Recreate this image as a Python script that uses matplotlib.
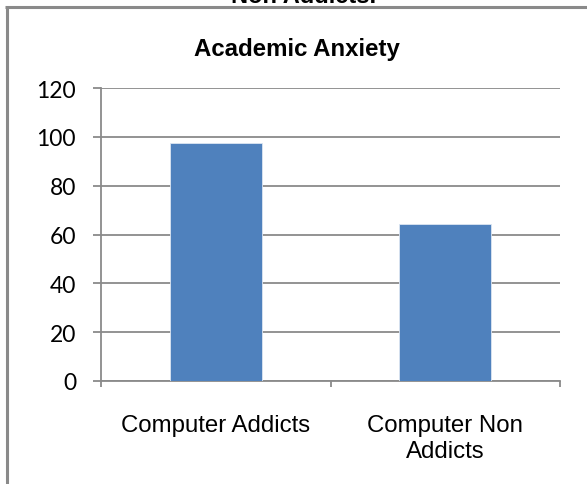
import matplotlib
matplotlib.use("Agg")
import matplotlib.pyplot as plt
from matplotlib.lines import Line2D

# data
categories = ["Computer Addicts", "Computer Non\nAddicts"]
values = [97.5, 64.3]
y_ticks = [0, 20, 40, 60, 80, 100, 120]

DPI = 100
W, H = 587, 485
GRAY = "#8a8a8a"
BAR = "#4f81bd"

fig = plt.figure(figsize=(W / DPI, H / DPI), dpi=DPI)
fig.patch.set_facecolor("white")

# chart area border (only left and top visible)
fig.add_artist(Line2D([6.5 / W, 6.5 / W], [0, 1 - 7.8 / H], color=GRAY, lw=2.2,
                      transform=fig.transFigure, solid_capstyle="butt"))
fig.add_artist(Line2D([5.4 / W, 1], [1 - 7.8 / H, 1 - 7.8 / H], color=GRAY, lw=2.2,
                      transform=fig.transFigure, solid_capstyle="butt"))

# cut-off caption text from the page above
fig.text(304 / W, 1 - 3 / H, "Non Addicts.", ha="center", va="baseline",
         fontsize=17, fontweight="bold", family="Liberation Sans")

fig.text(297 / W, 1 - 56 / H, "Academic Anxiety", ha="center", va="baseline",
         fontsize=17.3, fontweight="bold", family="Liberation Sans")

ax = fig.add_axes([101 / W, 103 / H, 459 / W, 293 / H])
x = list(range(len(categories)))
ax.bar(x, values, width=0.4, color=BAR, edgecolor="#dce6f2", linewidth=0.6, zorder=3)

ax.set_xlim(-0.5, len(categories) - 0.5)
ax.set_ylim(0, 120)
ax.set_yticks(y_ticks)
ax.set_yticklabels([str(v) for v in y_ticks], family="Lato", fontsize=16.5)
ax.yaxis.grid(True, color=GRAY, lw=1.3, zorder=0)
ax.set_axisbelow(True)

ax.set_xticks(x)
ax.set_xticklabels(categories, family="Liberation Sans", fontsize=17.3,
                   linespacing=1.2, va="top")
ax.set_xticks([i - 0.5 for i in range(len(categories) + 1)], minor=True)
ax.tick_params(axis="x", which="major", length=0, pad=24)
ax.tick_params(axis="x", which="minor", length=4, width=1.3, color=GRAY, direction="out")
ax.tick_params(axis="y", length=6, width=1.3, color=GRAY, pad=12)

for side in ["top", "right"]:
    ax.spines[side].set_visible(False)
for side in ["left", "bottom"]:
    ax.spines[side].set_color(GRAY)
    ax.spines[side].set_linewidth(1.3)

fig.savefig("out.png", dpi=DPI)
